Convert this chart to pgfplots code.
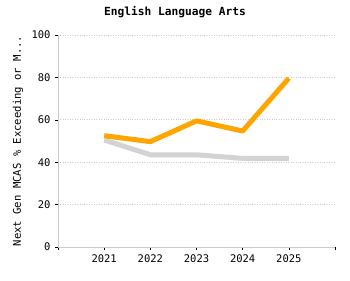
\documentclass[border=0pt]{standalone}
\usepackage{pgfplots}
\pgfplotsset{compat=1.18}
\usepackage{fontspec}
\setmainfont{DejaVu Sans Mono}
\definecolor{axgray}{HTML}{CCCCCC}
\definecolor{ora}{HTML}{FFA500}
\definecolor{lgray}{HTML}{D3D3D3}
\begin{document}
\begin{tikzpicture}[x=1pt,y=1pt]
\begin{axis}[name=ax,
  scale only axis, width=277pt, height=212pt,
  xmin=2020, xmax=2026, ymin=0, ymax=100,
  xtick={2020,2021,2022,2023,2024,2025,2026},
  xticklabels={,2021,2022,2023,2024,2025,},
  ytick={0,20,40,60,80,100},
  axis x line*=bottom, axis y line*=left,
  axis line style={axgray, line width=0.8pt, -},
  tick style={black, line width=0.5pt},
  tick align=outside, major tick length=3pt,
  ymajorgrids, grid style={axgray, dotted, line width=0.6pt},
  font=\fontsize{10.5}{12}\selectfont,
  ticklabel style={font=\fontsize{10.5}{12}\selectfont},
  /pgf/number format/assume math mode=true,
  ylabel={Next Gen MCAS \% Exceeding or M...},
  ylabel style={font=\fontsize{10.6}{12}\selectfont, at={(-40pt,0.5)}, anchor=center},
  yticklabel style={xshift=-1pt},
  xticklabel style={yshift=-1pt},
  clip=false,
]
\addplot[lgray, line width=5pt, line join=round] coordinates {(2021,50.5) (2022,43.5) (2023,43.5) (2024,41.8) (2025,41.8)};
\addplot[ora, line width=5pt, line join=round] coordinates {(2021,52.5) (2022,49.7) (2023,59.5) (2024,54.7) (2025,79.6)};
\end{axis}
\path (ax.south west) ++(-58pt,-33pt) coordinate (bl);
\path (ax.north east) ++(15pt,35pt) coordinate (tr);
\path (bl) rectangle (tr);
\path (tr) ++(-175pt,-12pt) node[font=\bfseries\fontsize{11.2}{13}\selectfont] {English Language Arts};
\end{tikzpicture}
\end{document}
